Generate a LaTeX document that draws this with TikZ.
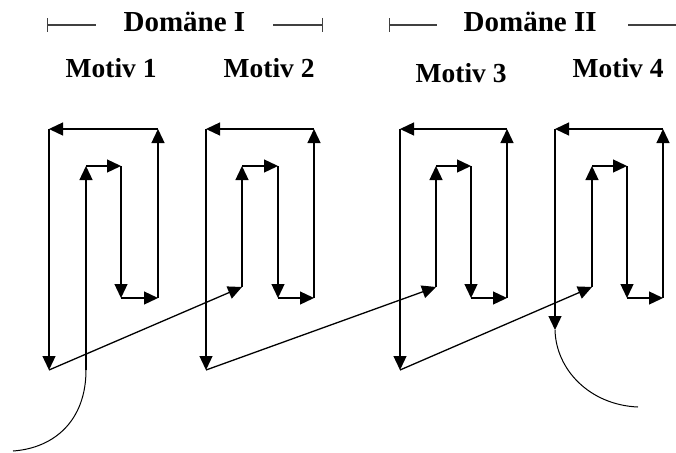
\documentclass[tikz,border=0pt]{standalone}
\usepackage{fontspec}
\setmainfont{Liberation Serif}
\usetikzlibrary{arrows.meta}

\begin{document}
\begin{tikzpicture}
  [x=1pt,y=-1pt,line width=1.3pt,
   strand/.style={-{Triangle[length=14pt,width=13pt]}},
   domline/.style={black!75},
   motiv/.style={inner sep=0pt,anchor=base west,font=\fontsize{27.5}{30}\selectfont\bfseries},
   domaene/.style={inner sep=0pt,anchor=base west,font=\fontsize{29}{32}\selectfont\bfseries}]
  \useasboundingbox (0,0) rectangle (676,452);

  % labels
  \node[domaene] (dom1) at (123,32) {Domäne I};
  \node[domaene] (dom2) at (463,32) {Domäne II};
  \node[motiv] (mot1) at (65,77) {Motiv 1};
  \node[motiv] (mot2) at (223,77) {Motiv 2};
  \node[motiv] (mot3) at (415,82) {Motiv 3};
  \node[motiv] (mot4) at (572,77) {Motiv 4};

  % domain ranges
  \coordinate (d1a) at (47,25);
  \coordinate (d1b) at (96,25);
  \coordinate (d1c) at (273,25);
  \coordinate (d1d) at (323,25);
  \coordinate (d2a) at (389,25);
  \coordinate (d2b) at (437,25);
  \coordinate (d2c) at (628,25);
  \coordinate (d2d) at (676,25);
  \draw[domline,{Bar[width=14pt]}-] (d1a) -- (d1b);
  \draw[domline,-{Bar[width=14pt]}] (d1c) -- (d1d);
  \draw[domline,{Bar[width=14pt]}-] (d2a) -- (d2b);
  \draw[domline] (d2c) -- (d2d);

  % chain ends
  \coordinate (s) at (13,451);
  \coordinate (t) at (638,407);

  % motiv 1
  \coordinate (m1a) at (86,370);
  \coordinate (m1b) at (86,166);
  \coordinate (m1c) at (121,166);
  \coordinate (m1d) at (121,298);
  \coordinate (m1e) at (158,298);
  \coordinate (m1f) at (158,129);
  \coordinate (m1g) at (49,129);
  \coordinate (m1h) at (49,370);
  % motiv 2
  \coordinate (m2a) at (242,287);
  \coordinate (m2b) at (242,166);
  \coordinate (m2c) at (278,166);
  \coordinate (m2d) at (278,298);
  \coordinate (m2e) at (314,298);
  \coordinate (m2f) at (314,129);
  \coordinate (m2g) at (206,129);
  \coordinate (m2h) at (206,370);
  % motiv 3
  \coordinate (m3a) at (436,287);
  \coordinate (m3b) at (436,166);
  \coordinate (m3c) at (471,166);
  \coordinate (m3d) at (471,298);
  \coordinate (m3e) at (507,298);
  \coordinate (m3f) at (507,129);
  \coordinate (m3g) at (400,129);
  \coordinate (m3h) at (400,370);
  % motiv 4
  \coordinate (m4a) at (592,287);
  \coordinate (m4b) at (592,166);
  \coordinate (m4c) at (627,166);
  \coordinate (m4d) at (627,298);
  \coordinate (m4e) at (663,298);
  \coordinate (m4f) at (663,129);
  \coordinate (m4g) at (555,129);
  \coordinate (m4h) at (555,330);

  \draw[line width=1pt] (s) .. controls (55,448) and (86,420) .. (m1a);
  \foreach \from/\to in {m1a/m1b,m1b/m1c,m1c/m1d,m1d/m1e,m1e/m1f,m1f/m1g,m1g/m1h,m1h/m2a,
                         m2a/m2b,m2b/m2c,m2c/m2d,m2d/m2e,m2e/m2f,m2f/m2g,m2g/m2h,m2h/m3a,
                         m3a/m3b,m3b/m3c,m3c/m3d,m3d/m3e,m3e/m3f,m3f/m3g,m3g/m3h,m3h/m4a,
                         m4a/m4b,m4b/m4c,m4c/m4d,m4d/m4e,m4e/m4f,m4f/m4g,m4g/m4h}
    \draw[strand] (\from) -- (\to);
  \draw[line width=1pt] (m4h) .. controls (556,370) and (590,405) .. (t);

\end{tikzpicture}
\end{document}
